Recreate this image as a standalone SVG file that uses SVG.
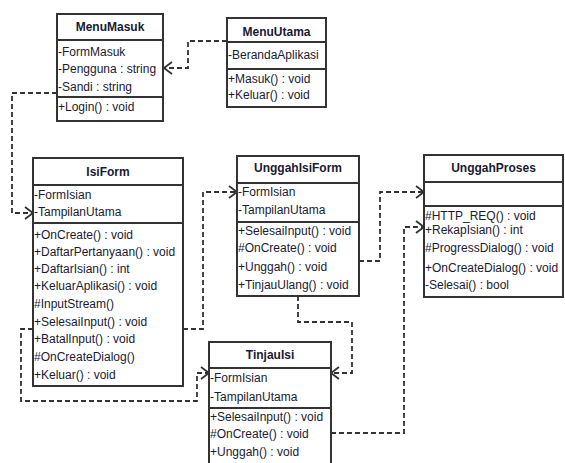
<svg xmlns="http://www.w3.org/2000/svg" width="565" height="463" viewBox="0 0 565 463">
<style>
.box{fill:#fff;stroke:#333;stroke-width:2}
.sep{stroke:#333;stroke-width:2}
.t{font-family:"Liberation Sans",Arial,sans-serif;font-size:12px;fill:#1a1a33}
.h{font-family:"Liberation Sans",Arial,sans-serif;font-size:12px;font-weight:bold;fill:#1a1a33;text-anchor:middle}
.c{fill:none;stroke:#333;stroke-width:1.8;stroke-dasharray:5,3}
</style>
<defs>
<marker id="arr" markerUnits="userSpaceOnUse" markerWidth="12" markerHeight="14" refX="9" refY="7" orient="auto">
<path d="M1,1 L9,7 L1,13" fill="none" stroke="#333" stroke-width="1.8"/>
</marker>
</defs>
<rect width="565" height="463" fill="#fff"/>
<g id="connectors">
<path class="c" d="M227,41 H188 V68 H164" marker-end="url(#arr)"/>
<path class="c" d="M57,93 H12 V213 H33" marker-end="url(#arr)"/>
<path class="c" d="M183,329 H203 V192 H237" marker-end="url(#arr)"/>
<path class="c" d="M359,261 H380 V192 H424" marker-end="url(#arr)"/>
<path class="c" d="M298,296 V322 H352 V373 H331" marker-end="url(#arr)"/>
<path class="c" d="M33,329 H21 V401 H197 V373 H209" marker-end="url(#arr)"/>
<path class="c" d="M331,433 H404 V227 H424" marker-end="url(#arr)"/>
</g>
<g id="MenuMasuk">
<rect class="box" x="57" y="14" width="106" height="107"/>
<line class="sep" x1="57" y1="40" x2="163" y2="40"/>
<line class="sep" x1="57" y1="97" x2="163" y2="97"/>
<text class="h" x="110" y="31">MenuMasuk</text>
<text class="t" x="58" y="56">-FormMasuk</text>
<text class="t" x="58" y="73">-Pengguna : string</text>
<text class="t" x="58" y="91">-Sandi : string</text>
<text class="t" x="58" y="111">+Login() : void</text>
</g>
<g id="MenuUtama">
<rect class="box" x="227" y="18" width="99" height="89"/>
<line class="sep" x1="227" y1="42" x2="326" y2="42"/>
<line class="sep" x1="227" y1="69" x2="326" y2="69"/>
<text class="h" x="276.500" y="36">MenuUtama</text>
<text class="t" x="228" y="59">-BerandaAplikasi</text>
<text class="t" x="228" y="83">+Masuk() : void</text>
<text class="t" x="228" y="99">+Keluar() : void</text>
</g>
<g id="IsiForm">
<rect class="box" x="33" y="158" width="150" height="228"/>
<line class="sep" x1="33" y1="185" x2="183" y2="185"/>
<line class="sep" x1="33" y1="223" x2="183" y2="223"/>
<text class="h" x="108" y="176">IsiForm</text>
<text class="t" x="34" y="199">-FormIsian</text>
<text class="t" x="34" y="216">-TampilanUtama</text>
<text class="t" x="34" y="239">+OnCreate() : void</text>
<text class="t" x="34" y="256">+DaftarPertanyaan() : void</text>
<text class="t" x="34" y="273">+DaftarIsian() : int</text>
<text class="t" x="34" y="290">+KeluarAplikasi() : void</text>
<text class="t" x="34" y="308">#InputStream()</text>
<text class="t" x="34" y="326">+SelesaiInput() : void</text>
<text class="t" x="34" y="343">+BatalInput() : void</text>
<text class="t" x="34" y="361">#OnCreateDialog()</text>
<text class="t" x="34" y="379">+Keluar() : void</text>
</g>
<g id="UnggahIsiForm">
<rect class="box" x="237" y="156" width="122" height="140"/>
<line class="sep" x1="237" y1="183" x2="359" y2="183"/>
<line class="sep" x1="237" y1="222" x2="359" y2="222"/>
<text class="h" x="298" y="172">UnggahIsiForm</text>
<text class="t" x="238" y="196">-FormIsian</text>
<text class="t" x="238" y="214">-TampilanUtama</text>
<text class="t" x="238" y="235">+SelesaiInput() : void</text>
<text class="t" x="238" y="252">#OnCreate() : void</text>
<text class="t" x="238" y="271">+Unggah() : void</text>
<text class="t" x="238" y="289">+TinjauUlang() : void</text>
</g>
<g id="UnggahProses">
<rect class="box" x="424" y="155" width="139" height="142"/>
<line class="sep" x1="424" y1="182" x2="563" y2="182"/>
<line class="sep" x1="424" y1="206" x2="563" y2="206"/>
<text class="h" x="493.500" y="172">UnggahProses</text>
<text class="t" x="425" y="220">#HTTP_REQ() : void</text>
<text class="t" x="425" y="234">+RekapIsian() : int</text>
<text class="t" x="425" y="252">#ProgressDialog() : void</text>
<text class="t" x="425" y="272">+OnCreateDialog() : void</text>
<text class="t" x="425" y="289">-Selesai() : bool</text>
</g>
<g id="TinjauIsi">
<rect class="box" x="209" y="342" width="122" height="130"/>
<line class="sep" x1="209" y1="368" x2="331" y2="368"/>
<line class="sep" x1="209" y1="408" x2="331" y2="408"/>
<text class="h" x="270" y="359">TinjauIsi</text>
<text class="t" x="210" y="382">-FormIsian</text>
<text class="t" x="210" y="401">-TampilanUtama</text>
<text class="t" x="210" y="421">+SelesaiInput() : void</text>
<text class="t" x="210" y="438">#OnCreate() : void</text>
<text class="t" x="210" y="456">+Unggah() : void</text>
</g>
</svg>
